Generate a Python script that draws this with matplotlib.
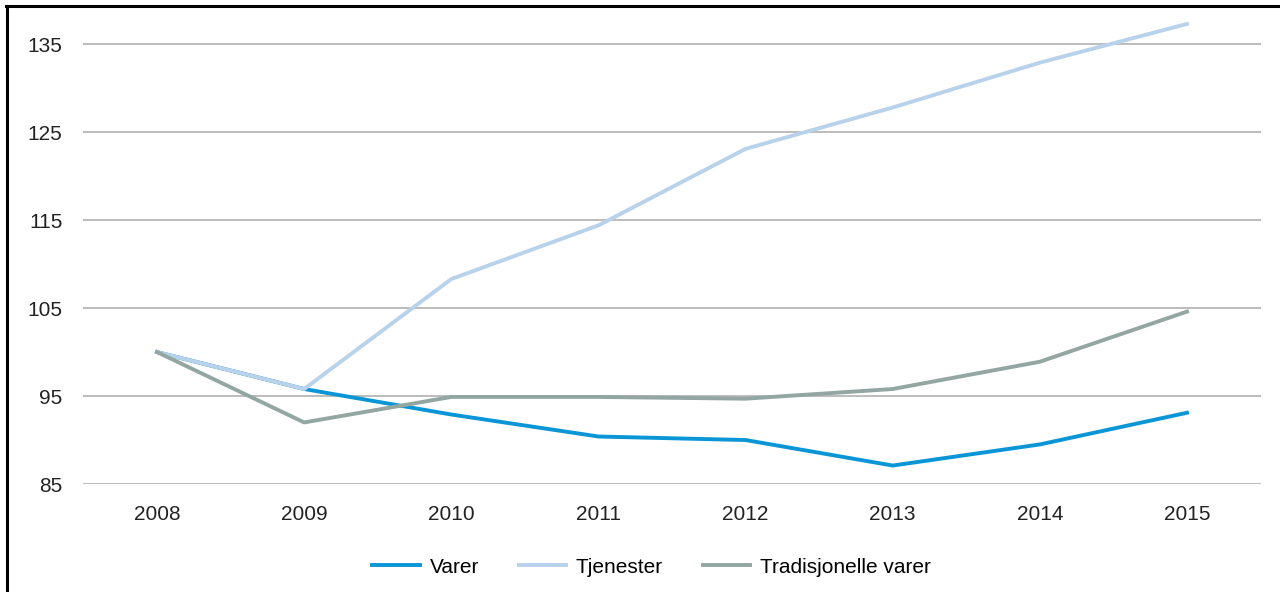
import matplotlib
matplotlib.use('Agg')
import matplotlib.pyplot as plt
from matplotlib.lines import Line2D

plt.rcParams['font.family'] = ['Liberation Sans', 'DejaVu Sans']

years = ['2008', '2009', '2010', '2011', '2012', '2013', '2014', '2015']
varer = [100.0, 95.8, 92.9, 90.4, 90.0, 87.1, 89.5, 93.1]
tjenester = [100.0, 95.8, 108.3, 114.4, 123.1, 127.8, 132.9, 137.3]
trad_varer = [100.0, 92.0, 94.9, 94.9, 94.7, 95.8, 98.9, 104.6]
yticks = [85, 95, 105, 115, 125, 135]

fig = plt.figure(figsize=(12.8, 5.92), dpi=100)
ax = fig.add_axes([0.0652, 0.1824, 0.9196, 0.795])

x = range(len(years))
ax.plot(x, varer, color='#0a96d6', lw=2.8, label='Varer', zorder=2)
ax.plot(x, tjenester, color='#b8d2ec', lw=2.8, label='Tjenester', zorder=3)
ax.plot(x, trad_varer, color='#93a6a2', lw=2.8, label='Tradisjonelle varer', zorder=4)

ax.set_xlim(-0.5, len(years) - 0.5)
ax.set_ylim(85, 138.5)
ax.set_xticks(list(x))
ax.set_xticklabels(years)
ax.set_yticks(yticks)
ax.yaxis.grid(True, color='#b0b0b0', lw=1.2)
ax.set_axisbelow(True)
for s in ax.spines.values():
    s.set_visible(False)
ax.tick_params(length=0, labelsize=15, colors='#222222')
ax.tick_params(axis='x', pad=15)
ax.tick_params(axis='y', pad=15)

fig.legend(loc='center', bbox_to_anchor=(0.509, 0.042), ncol=3, frameon=False,
           fontsize=15, handlelength=2.3, columnspacing=1.9, handletextpad=0.45)

# outer frame (left and top)
fig.add_artist(Line2D([0.0055, 0.0055], [0, 0.9905], transform=fig.transFigure, color='black', lw=2.2))
fig.add_artist(Line2D([0.0045, 1.0], [0.9905, 0.9905], transform=fig.transFigure, color='black', lw=2.2))

fig.savefig('out.png', dpi=100)
